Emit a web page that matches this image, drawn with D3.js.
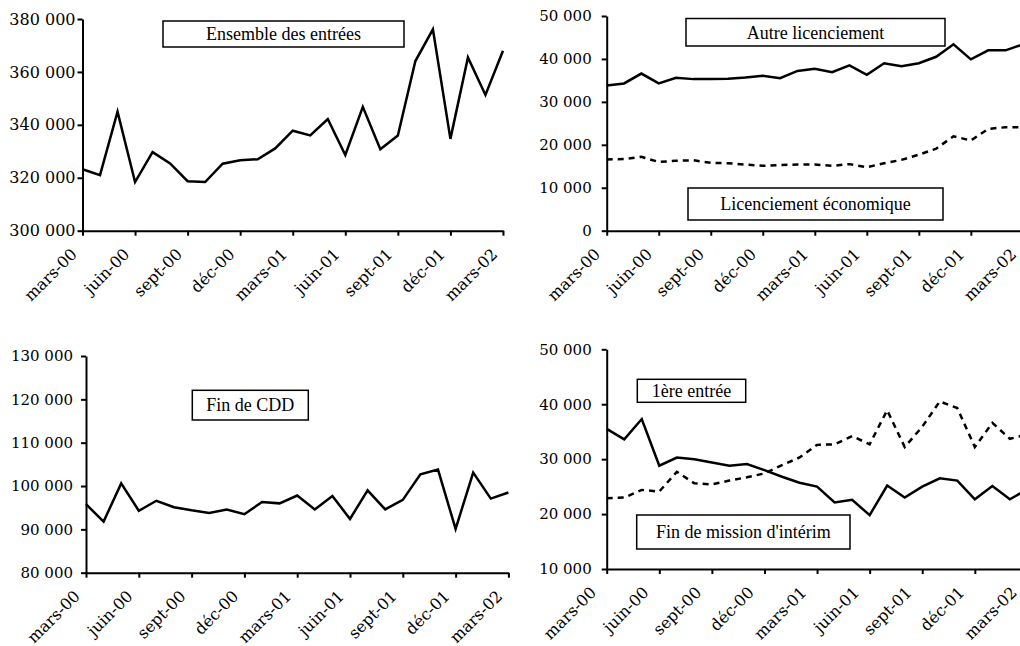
<!DOCTYPE html>
<html>
<head>
<meta charset="utf-8">
<script src="https://cdn.jsdelivr.net/npm/d3@7"></script>
<style>
  body { margin: 0; background: #fff; }
  svg { display: block; }
  text { font-family: "DejaVu Serif", serif; fill: #000; }
</style>
</head>
<body>
<div id="plot"></div>
<script>
// months, mars-00 .. mars-02
var months = ["mars-00","avr-00","mai-00","juin-00","juil-00","août-00","sept-00","oct-00","nov-00","déc-00",
              "janv-01","févr-01","mars-01","avr-01","mai-01","juin-01","juil-01","août-01","sept-01","oct-01",
              "nov-01","déc-01","janv-02","févr-02","mars-02"];

// series
var ensemble   = [323200,321000,345000,318400,329700,325400,318700,318400,325300,326600,327000,331100,337800,
                  336000,342200,328600,346800,330800,336000,364100,376100,334700,365500,351300,368000];
var autreLic   = [33800,34300,36600,34300,35600,35300,35300,35400,35700,36100,35500,37200,37700,
                  36900,38500,36300,39000,38300,39000,40500,43400,39900,42000,42000,43400];
var licEco     = [16600,16700,17200,16000,16300,16400,15800,15700,15400,15100,15300,15400,15400,
                  15100,15500,14800,15700,16500,17700,19100,22000,21000,23700,24100,24100];
var finCDD     = [95800,91800,100600,94300,96600,95100,94400,93800,94600,93500,96300,96000,97800,
                  94600,97700,92400,99000,94600,96800,102700,103800,90100,103100,97100,98500];
var premiere   = [35500,33600,37300,28800,30300,30000,29400,28800,29100,28000,26800,25700,25000,
                  22100,22600,19800,25200,23000,25000,26500,26100,22700,25100,22700,24500];
var finInterim = [22900,23000,24400,24100,27700,25600,25400,26100,26700,27400,28900,30300,32600,
                  32700,34200,32700,38900,32200,35900,40500,39300,32200,36600,33700,34500];

// y tick values per panel
var ticksEnsemble = [300000,320000,340000,360000,380000];
var ticksLic      = [0,10000,20000,30000,40000,50000];
var ticksCDD      = [80000,90000,100000,110000,120000,130000];
var ticksInterim  = [10000,20000,30000,40000,50000];

var width = 1020, height = 646;

var fr = d3.formatLocale({decimal: ",", thousands: "\u00a0", grouping: [3], currency: ["", " €"]});
var fmt = fr.format(",d");

var svg = d3.select("#plot").append("svg")
    .attr("width", width)
    .attr("height", height);

function panel(p) {
  var g = svg.append("g");
  var x = d3.scaleLinear().domain([0, months.length - 1]).range([p.left, p.left + p.step * (months.length - 1)]);
  var y = d3.scaleLinear().domain([p.ticks[0], p.ticks[p.ticks.length - 1]]).range([p.bottom, p.top]);

  // lines
  var line = d3.line().x(function (d, i) { return x(i); }).y(function (d) { return y(d); });
  p.series.forEach(function (s) {
    g.append("path")
      .datum(s.values)
      .attr("fill", "none")
      .attr("stroke", "#000")
      .attr("stroke-width", 2.5)
      .attr("stroke-dasharray", s.dashed ? "6,5" : null)
      .attr("d", line);
  });

  // y axis
  var yAxis = g.append("g")
    .attr("transform", "translate(" + p.left + ",0)")
    .call(d3.axisLeft(y).tickValues(p.ticks).tickFormat(fmt).tickSize(5).tickSizeOuter(0).tickPadding(p.pad));
  yAxis.selectAll("text").style("font-size", p.font + "px").style("font-family", "DejaVu Serif");

  // x axis, ticks every 3 months
  var idx = d3.range(0, months.length, 3);
  var xAxis = g.append("g")
    .attr("transform", "translate(0," + p.bottom + ")")
    .call(d3.axisBottom(x).tickValues(idx).tickFormat(function (i) { return months[i]; }).tickSize(5).tickSizeOuter(0));
  xAxis.selectAll("text")
    .attr("y", 0).attr("dy", null)
    .attr("transform", "translate(" + p.lx + ",24.5) rotate(-45)")
    .style("text-anchor", "end")
    .style("font-size", "16px")
    .style("font-family", "DejaVu Serif");

  g.selectAll(".domain, .tick line").attr("stroke", "#000").attr("stroke-width", 2);

  // labels in boxes
  p.boxes.forEach(function (b) {
    g.append("rect")
      .attr("x", b.x).attr("y", b.y).attr("width", b.w).attr("height", b.h)
      .attr("fill", "#fff").attr("stroke", "#000").attr("stroke-width", 1.5);
    g.append("text")
      .attr("x", b.x + b.w / 2).attr("y", b.y + b.h / 2)
      .attr("dy", "0.35em")
      .attr("text-anchor", "middle")
      .style("font-family", "'Liberation Serif', serif")
      .style("font-size", "18px")
      .text(b.text);
  });
}

panel({left: 82.5, step: 17.52, top: 19, bottom: 230.7, ticks: ticksEnsemble, pad: 2, font: 16, lx: -5,
       series: [{values: ensemble}],
       boxes: [{x: 163, y: 21, w: 241, h: 26, text: "Ensemble des entrées"}]});

panel({left: 606.7, step: 17.34, top: 16, bottom: 230.7, ticks: ticksLic, pad: 10, font: 15, lx: -6,
       series: [{values: autreLic}, {values: licEco, dashed: true}],
       boxes: [{x: 686, y: 18.5, w: 259, h: 27.5, text: "Autre licenciement"},
               {x: 688, y: 188, w: 255, h: 32, text: "Licenciement économique"}]});

panel({left: 86, step: 17.6, top: 356, bottom: 572.7, ticks: ticksCDD, pad: 8, font: 15, lx: -5.5,
       series: [{values: finCDD}],
       boxes: [{x: 192.3, y: 390.3, w: 116, h: 29.7, text: "Fin de CDD"}]});

panel({left: 606.7, step: 17.53, top: 349.3, bottom: 569, ticks: ticksInterim, pad: 10, font: 15, lx: -10,
       series: [{values: premiere}, {values: finInterim, dashed: true}],
       boxes: [{x: 637.3, y: 379.3, w: 108.4, h: 23, text: "1ère entrée"},
               {x: 636.7, y: 515, w: 213.3, h: 34, text: "Fin de mission d'intérim"}]});
</script>
</body>
</html>
